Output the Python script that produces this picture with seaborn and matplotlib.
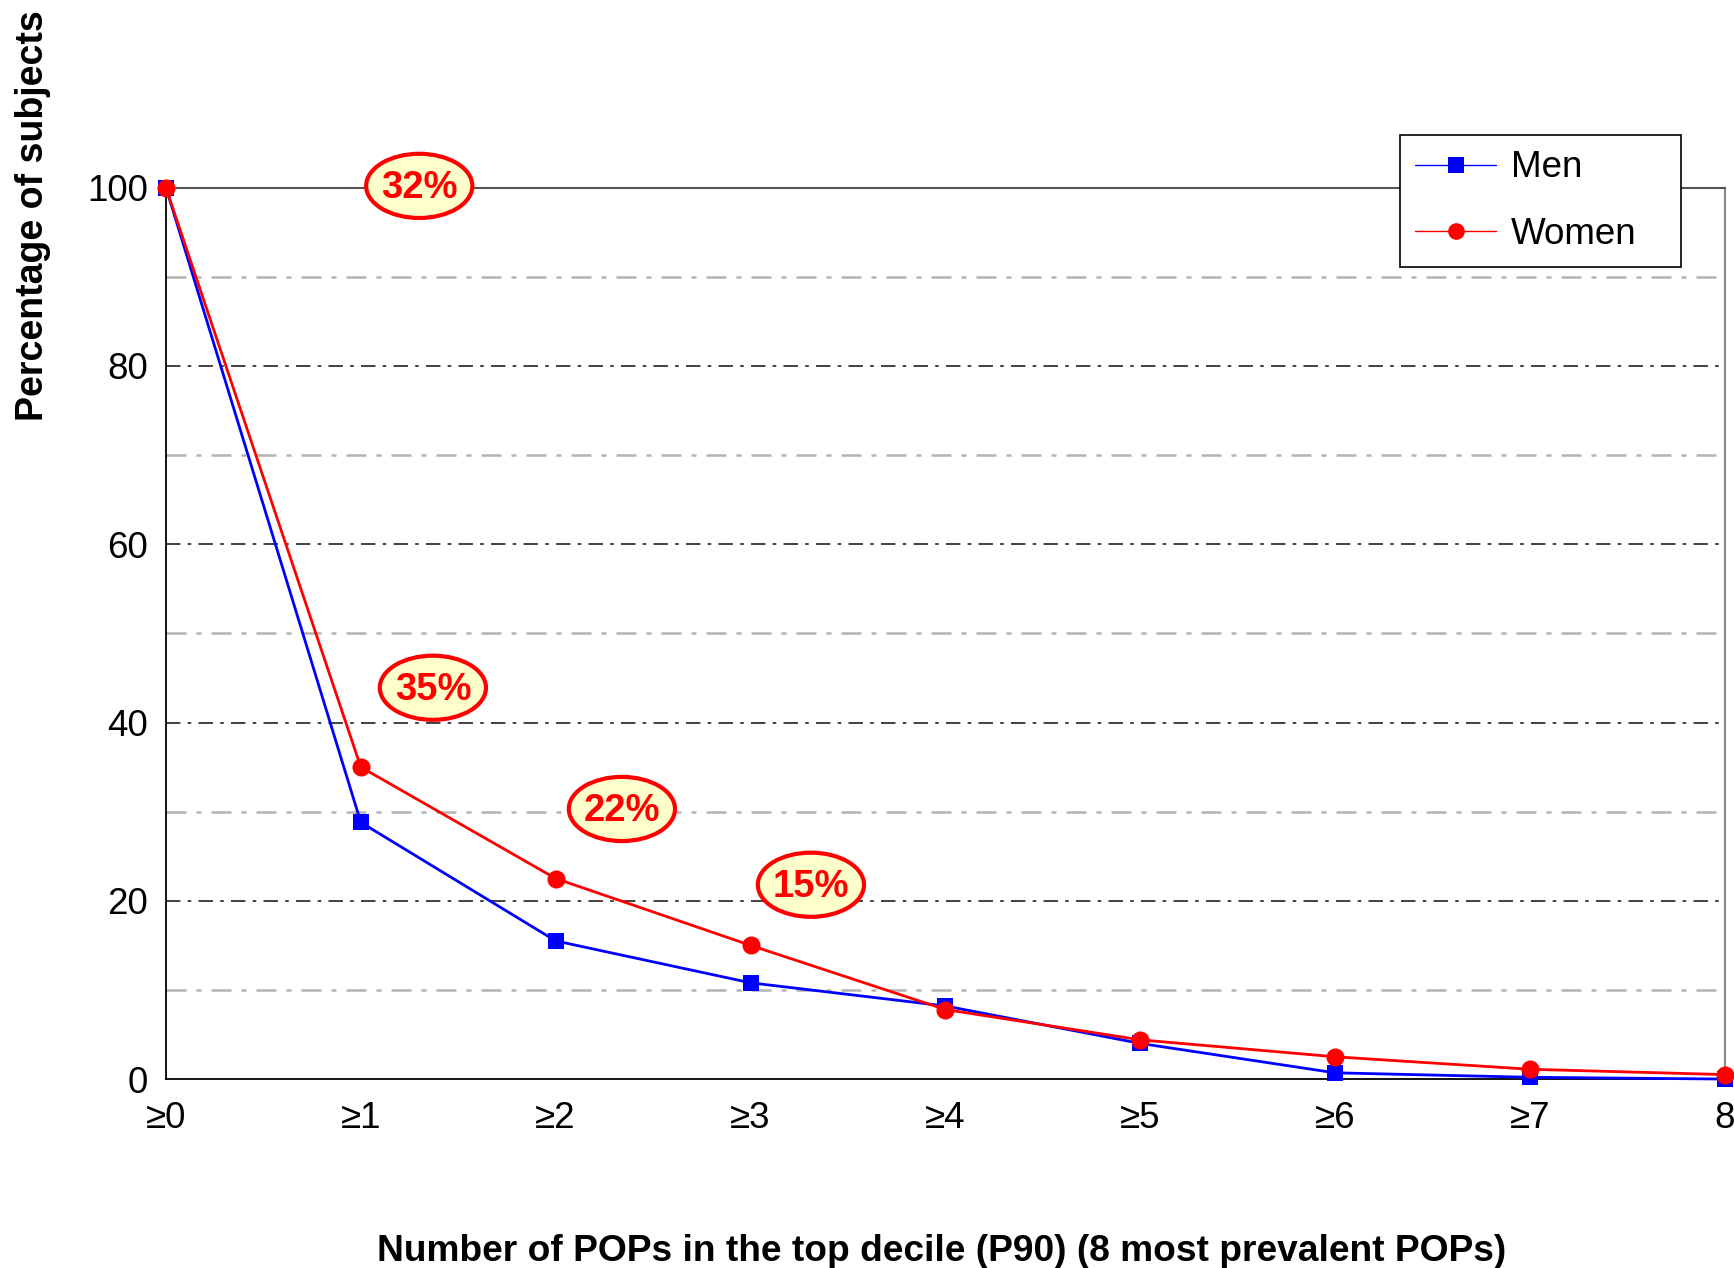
import matplotlib
matplotlib.use("Agg")
import matplotlib.pyplot as plt
import seaborn as sns
import pandas as pd
import numpy as np
from matplotlib.lines import Line2D
from matplotlib.patches import Ellipse

# ---- data ----
categories = ["≥0", "≥1", "≥2", "≥3", "≥4", "≥5", "≥6", "≥7", "8"]
men = [100, 28.8, 15.5, 10.8, 8.2, 4.0, 0.7, 0.2, 0.0]
women = [100, 35.0, 22.5, 15.0, 7.8, 4.4, 2.5, 1.1, 0.5]
series_names = ["Men", "Women"]
annot_labels = ["32%", "35%", "22%", "15%"]
annot_x = [1.30, 1.37, 2.34, 3.31]
annot_y = [100.2, 43.9, 30.3, 21.8]

sns.set_theme(style="white")
plt.rcParams["font.family"] = ["Liberation Sans", "DejaVu Sans"]
plt.rcParams["text.color"] = "black"

df = pd.DataFrame({
    "x": list(range(len(categories))) * 2,
    "value": men + women,
    "series": [series_names[0]] * len(men) + [series_names[1]] * len(women),
})

fig = plt.figure(figsize=(17.34, 12.68), dpi=100)
ax = fig.add_axes([0.0957, 0.149, 0.899, 0.703])

# grid lines
for yv in [10, 30, 50, 70, 90]:
    ax.axhline(yv, color="#b3b3b3", lw=1.8, ls=(0, (8, 4, 2, 4)), zorder=1)
for yv in [20, 40, 60, 80, 100]:
    ax.axhline(yv, color="#333333", lw=1.3, ls=(0, (8, 4, 2, 4)), zorder=1)

sns.lineplot(data=df, x="x", y="value", hue="series", style="series",
             palette={"Men": "#0000ff", "Women": "#ff0000"},
             markers={"Men": "s", "Women": "o"}, dashes=False,
             linewidth=2.0, markersize=12, markeredgewidth=0,
             ax=ax, zorder=3, legend=False)
for ln in ax.lines[-2:]:
    ln.set_clip_on(False)
ax.lines[-2].set_markersize(11)
ax.lines[-1].set_markersize(13)

ax.set_xlim(0, 8)
ax.set_ylim(0, 100)
ax.set_xticks(range(len(categories)))
ax.set_xticklabels(categories)
ax.set_yticks([0, 20, 40, 60, 80, 100])
ax.set_yticks([10, 30, 50, 70, 90], minor=True)
ax.tick_params(axis="both", which="both", direction="out", length=8, width=1,
               color="#333333", labelsize=26.5, labelcolor="black")
ax.tick_params(axis="y", which="major", pad=5)
ax.tick_params(axis="x", which="major", pad=8)
ax.set_xlabel("")
ax.set_ylabel("")

for s in ["left", "bottom"]:
    ax.spines[s].set_color("black")
    ax.spines[s].set_linewidth(1.3)
ax.spines["top"].set_color("#555555")
ax.spines["top"].set_linewidth(1.5)
ax.spines["right"].set_color("#888888")
ax.spines["right"].set_linewidth(1.5)

fig.text(0.019, 0.830, "Percentage of subjects", rotation=90, ha="center",
         va="center", fontsize=27, fontweight="bold")
fig.text(0.543, 0.013, "Number of POPs in the top decile (P90) (8 most prevalent POPs)",
         ha="center", va="center", fontsize=26.7, fontweight="bold")

for lab, xv, yv in zip(annot_labels, annot_x, annot_y):
    ax.add_patch(Ellipse((xv, yv), width=0.545, height=7.2, facecolor="#ffffcc",
                         edgecolor="#ff0000", lw=3, zorder=5, clip_on=False))
    ax.text(xv, yv - 0.2, lab, ha="center", va="center", fontsize=27.5,
            fontweight="bold", color="#ff0000", zorder=6)

handles = [Line2D([0], [0], color="#0000ff", lw=1, marker="s", markersize=11, markeredgewidth=0),
           Line2D([0], [0], color="#ff0000", lw=1, marker="o", markersize=12, markeredgewidth=0)]
leg = fig.legend(handles, series_names, loc="upper left", mode="expand",
                 bbox_to_anchor=(1400 / 1734, 1 - 135 / 1268, 281 / 1734, 0),
                 bbox_transform=fig.transFigure, fontsize=26.5, frameon=True,
                 fancybox=False, framealpha=1, edgecolor="black",
                 handlelength=2.2, handletextpad=0.4, borderpad=0.42,
                 labelspacing=0.85, borderaxespad=0)
leg.get_frame().set_linewidth(1.2)
for t in leg.get_texts():
    t.set_color("black")

fig.savefig("out.png", dpi=100)
